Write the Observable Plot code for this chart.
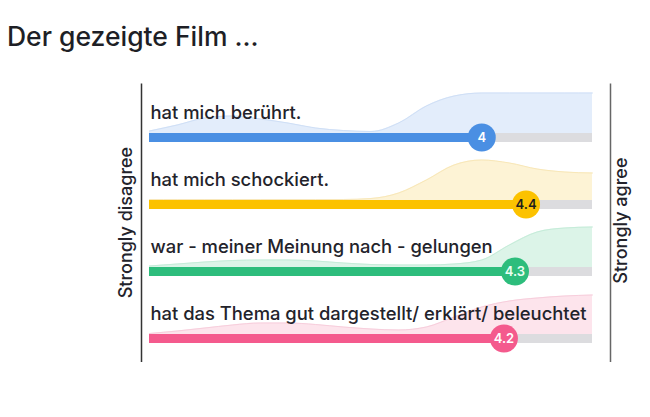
<!DOCTYPE html>
<html>
<head>
<meta charset="utf-8">
<script src="https://cdn.jsdelivr.net/npm/d3@7"></script>
<script src="https://cdn.jsdelivr.net/npm/@observablehq/plot@0.6"></script>
<style>
  html, body { margin: 0; padding: 0; background: #fff; }
  #title { height: 60px; box-sizing: border-box; padding: 23px 0 0 7px; font: 500 26.5px Inter, sans-serif; line-height: 1; color: #1e1f26; }
</style>
</head>
<body>
<div id="title">Der gezeigte Film ...</div>
<div id="chart"></div>
<script>
// ---- data ----
const statements = [
  "hat mich berührt.",
  "hat mich schockiert.",
  "war - meiner Meinung nach - gelungen",
  "hat das Thema gut dargestellt/ erklärt/ beleuchtet"
];
const means = [4, 4.4, 4.3, 4.2];
const meanLabels = ["4", "4.4", "4.3", "4.2"];
const scaleMin = 1, scaleMax = 5;
const leftLabel = "Strongly disagree";
const rightLabel = "Strongly agree";
const densityX = [1, 1.25, 1.5, 1.75, 2, 2.25, 2.5, 2.75, 3, 3.25, 3.5, 3.75, 4, 4.25, 4.5, 4.75, 5];
const densBeruehrt   = [2, 8, 15, 17, 14, 10, 5, 2.5, 1.5, 10, 27, 37, 40, 40, 40, 40, 40];
const densSchockiert = [0.5, 0.5, 0.5, 0.5, 0.5, 0.5, 0.5, 0.5, 1.5, 7, 20, 35, 40, 37, 31, 28, 27];
const densGelungen   = [1, 3, 5, 6.5, 7, 7, 6, 4, 2.5, 2, 2, 3, 7, 22, 35, 39, 40];
const densThema      = [0.5, 3, 6, 9, 11, 11, 9.5, 7, 5, 4, 7, 17, 27, 33, 36, 38, 39];
const densities = [densBeruehrt, densSchockiert, densGelungen, densThema];

// ---- styles ----
const colors = ["#4a8fe3", "#fcc200", "#2dbd7c", "#f45a8d"];
const lightColors = ["#e3edfb", "#fdf3d5", "#dcf4e8", "#fde4ec"];
const edgeColors = ["#cfdff6", "#f8e7b8", "#c5ecd9", "#f7cedc"];
const valueTextColors = ["#ffffff", "#1e1e1e", "#eafff3", "#ffffff"];
const rowPx = 67, barPx = 9, densPx = 1; // px per density unit

const rows = statements.map((s, i) => ({
  s, i, mean: means[i], label: meanLabels[i],
  color: colors[i], light: lightColors[i], edge: edgeColors[i], tc: valueTextColors[i]
}));
const dens = densities.flatMap((arr, i) => arr.map((d, k) => ({
  i, x: densityX[k], d, light: lightColors[i], edge: edgeColors[i]
})));
const densTop = d => d.i - (barPx / 2 + d.d * densPx) / rowPx;

const font = "Inter, sans-serif";
const chart = Plot.plot({
  width: 650,
  height: 357,
  x: { domain: [scaleMin, scaleMax], range: [149, 592], axis: null },
  y: { domain: [0, 3], range: [77, 278], axis: null },
  color: { type: "identity" },
  style: { fontFamily: font, background: "#fff" },
  marks: [
    Plot.areaY(dens, { x: "x", y1: "i", y2: densTop, fill: "light", z: "i", curve: "monotone-x" }),
    Plot.lineY(dens, { x: "x", y: densTop, stroke: "edge", z: "i", strokeWidth: 1, curve: "monotone-x" }),
    Plot.ruleY(rows, { x1: "mean", x2: scaleMax, y: "i", stroke: "#dcdcdf", strokeWidth: barPx }),
    Plot.ruleY(rows, { x1: scaleMin, x2: "mean", y: "i", stroke: "color", strokeWidth: barPx }),
    Plot.dot(rows, { x: "mean", y: "i", r: 14, fill: "color" }),
    Plot.text(rows, { x: "mean", y: "i", text: "label", fill: "tc", fontSize: 13, fontWeight: 600 }),
    Plot.text(rows, { x: scaleMin, y: "i", text: "s", textAnchor: "start", lineAnchor: "bottom", dy: -19, dx: 1, fontSize: 18.4, fontWeight: 500, fill: "#23232b" }),
    Plot.ruleX([scaleMin], { dx: -8, y1: -0.8, y2: 3.36, stroke: "#333", strokeWidth: 1.5 }),
    Plot.ruleX([scaleMax], { dx: 18, y1: -0.8, y2: 3.36, stroke: "#666", strokeWidth: 1.5 }),
    Plot.text([leftLabel], { x: scaleMin, y: 1.27, dx: -23, rotate: -90, fontSize: 18, fontWeight: 500, fill: "#23232b" }),
    Plot.text([rightLabel], { x: scaleMax, y: 1.24, dx: 29, rotate: -90, fontSize: 18, fontWeight: 500, fill: "#23232b" })
  ]
});
document.getElementById("chart").appendChild(chart);
</script>
</body>
</html>
